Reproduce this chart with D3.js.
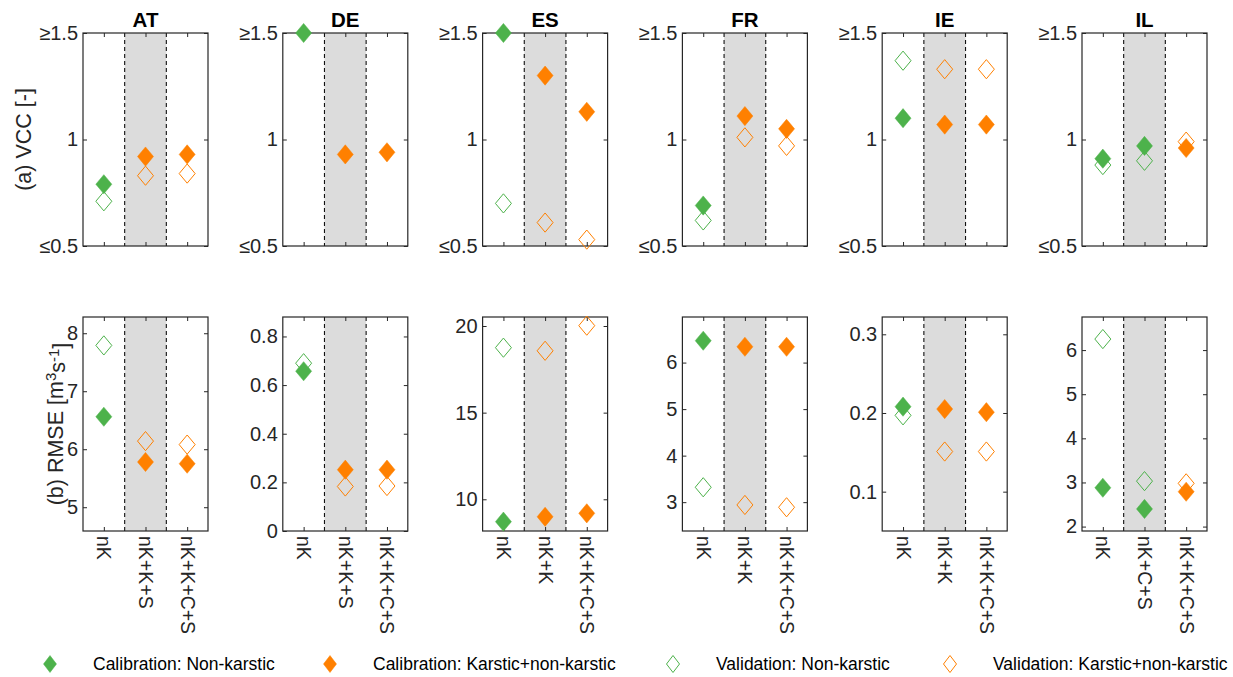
<!DOCTYPE html>
<html>
<head>
<meta charset="utf-8">
<script src="https://cdn.jsdelivr.net/npm/d3@7"></script>
<style>
  body { margin: 0; background: #fff; }
  text { font-family: "Liberation Sans", Arial, sans-serif; }
</style>
</head>
<body>
<div id="container"></div>
<script>
// ---- data ----
let countries = ["AT", "DE", "ES", "FR", "IE", "IL"];
let modelLabels = [
  ["nK", "nK+K+S", "nK+K+C+S"],
  ["nK", "nK+K+S", "nK+K+C+S"],
  ["nK", "nK+K", "nK+K+C+S"],
  ["nK", "nK+K", "nK+K+C+S"],
  ["nK", "nK+K", "nK+K+C+S"],
  ["nK", "nK+C+S", "nK+K+C+S"]
];

// (a) VCC, clipped to [0.5, 1.5]
let vccCal = [
  [0.79, 0.92, 0.93],
  [1.5, 0.93, 0.94],
  [1.5, 1.30, 1.13],
  [0.69, 1.11, 1.05],
  [1.10, 1.07, 1.07],
  [0.91, 0.97, 0.96]
];
let vccVal = [
  [0.71, 0.83, 0.84],
  [null, null, null],
  [0.70, 0.61, 0.53],
  [0.62, 1.01, 0.97],
  [1.37, 1.33, 1.33],
  [0.88, 0.90, 0.99]
];
let vccLimits = [0.5, 1.5];
let vccTicks = [0.5, 1, 1.5];
let vccTickLabels = ["\u22640.5", "1", "\u22651.5"];

// (b) RMSE
let rmseCal = [
  [6.56, 5.78, 5.75],
  [0.657, 0.252, 0.252],
  [8.71, 8.99, 9.19],
  [6.47, 6.34, 6.34],
  [0.208, 0.205, 0.201],
  [2.88, 2.40, 2.79]
];
let rmseVal = [
  [7.79, 6.14, 6.08],
  [0.69, 0.183, 0.185],
  [18.75, 18.57, 20.02],
  [3.32, 2.94, 2.89],
  [0.197, 0.151, 0.151],
  [6.25, 3.03, 2.98]
];
let rmseLimits = [
  [4.59, 8.28],
  [0, 0.88],
  [8.17, 20.52],
  [2.38, 6.98],
  [0.05, 0.322],
  [1.9, 6.75]
];
let rmseTicks = [
  [5, 6, 7, 8],
  [0, 0.2, 0.4, 0.6, 0.8],
  [10, 15, 20],
  [3, 4, 5, 6],
  [0.1, 0.2, 0.3],
  [2, 3, 4, 5, 6]
];

let legendLabels = [
  "Calibration: Non-karstic",
  "Calibration: Karstic+non-karstic",
  "Validation: Non-karstic",
  "Validation: Karstic+non-karstic"
];

// ---- layout ----
let w = 1233;
let h = 677;
let panelLeft = 83;
let panelStep = 199.8;
let panelW = 125;
let rows = [
  { top: 33, bottom: 246 },
  { top: 317, bottom: 531 }
];

let green = "#4db24b";
let orange = "#ff8000";
let axisColor = "#262626";

let svg = d3.select("#container")
  .append("svg")
    .attr("width", w)
    .attr("height", h)
    .style("background-color", "#fff");

// diamond a bit taller than wide, like the picture
function diamond(hw, hh) {
  let p = d3.path();
  p.moveTo(0, -hh);
  p.lineTo(hw, 0);
  p.lineTo(0, hh);
  p.lineTo(-hw, 0);
  p.closePath();
  return p.toString();
}
let markerPath = diamond(8, 9.6);

let xScale = d3.scaleLinear().domain([0.5, 3.5]).range([0, panelW]);

function colourFor(label) {
  return label.includes("+K") ? orange : green;
}

function drawPanel(ci, r) {
  let row = rows[r];
  let lim = r == 0 ? vccLimits : rmseLimits[ci];
  let ticks = r == 0 ? vccTicks : rmseTicks[ci];
  let yScale = d3.scaleLinear().domain(lim).range([row.bottom, row.top]).clamp(true);

  let g = svg.append("g")
    .attr("class", "panel")
    .attr("transform", "translate(" + (panelLeft + ci * panelStep) + ",0)");

  // shaded middle column
  g.append("rect")
    .attr("x", xScale(1.5))
    .attr("y", row.top)
    .attr("width", xScale(2.5) - xScale(1.5))
    .attr("height", row.bottom - row.top)
    .attr("fill", "#dcdcdc");

  // dashed separators
  g.selectAll(".sep").data([1.5, 2.5]).enter()
    .append("line")
      .attr("class", "sep")
      .attr("x1", d => xScale(d))
      .attr("x2", d => xScale(d))
      .attr("y1", row.top)
      .attr("y2", row.bottom)
      .attr("stroke", "#111")
      .attr("stroke-width", 1.1)
      .attr("stroke-dasharray", "4,3");

  // y axes (left with labels, right ticks only)
  let yLeft = d3.axisLeft(yScale).tickValues(ticks).tickSizeInner(-4).tickSizeOuter(0).tickPadding(5);
  if (r == 0) yLeft.tickFormat((d, i) => vccTickLabels[i]);
  else yLeft.tickFormat(d3.format("~g"));
  let yl = g.append("g").call(yLeft);
  yl.select(".domain").remove();
  yl.selectAll("line").attr("stroke", axisColor);
  yl.selectAll("text").attr("fill", axisColor).style("font-size", "20px");

  let yr = g.append("g").attr("transform", "translate(" + panelW + ",0)")
    .call(d3.axisRight(yScale).tickValues(ticks).tickSizeInner(-4).tickSizeOuter(0).tickFormat(""));
  yr.select(".domain").remove();
  yr.selectAll("line").attr("stroke", axisColor);

  // x axes
  let xt = g.append("g").attr("transform", "translate(0," + row.top + ")")
    .call(d3.axisTop(xScale).tickValues([1, 2, 3]).tickSizeInner(-4).tickSizeOuter(0).tickFormat(""));
  xt.select(".domain").remove();
  xt.selectAll("line").attr("stroke", axisColor);

  let xb = g.append("g").attr("transform", "translate(0," + row.bottom + ")")
    .call(d3.axisBottom(xScale).tickValues([1, 2, 3]).tickSizeInner(-4).tickSizeOuter(0)
      .tickFormat((d, i) => r == 1 ? modelLabels[ci][i] : ""));
  xb.select(".domain").remove();
  xb.selectAll("line").attr("stroke", axisColor);
  xb.selectAll("text")
    .attr("fill", axisColor)
    .style("font-size", "19.5px")
    .attr("text-anchor", "start")
    .attr("x", 5)
    .attr("y", 0)
    .attr("dy", "0.36em")
    .attr("transform", "rotate(90)");

  // frame
  g.append("rect")
    .attr("x", 0)
    .attr("y", row.top)
    .attr("width", panelW)
    .attr("height", row.bottom - row.top)
    .attr("fill", "none")
    .attr("stroke", axisColor)
    .attr("stroke-width", 1.2);

  // markers: validation (open) first, calibration (filled) on top
  let cal = r == 0 ? vccCal[ci] : rmseCal[ci];
  let val = r == 0 ? vccVal[ci] : rmseVal[ci];
  let pts = [];
  val.forEach((v, i) => { if (v != null) pts.push({ x: i + 1, v: v, filled: false, c: colourFor(modelLabels[ci][i]) }); });
  cal.forEach((v, i) => { if (v != null) pts.push({ x: i + 1, v: v, filled: true, c: colourFor(modelLabels[ci][i]) }); });

  g.selectAll(".pt").data(pts).enter()
    .append("path")
      .attr("class", "pt")
      .attr("d", markerPath)
      .attr("transform", d => "translate(" + xScale(d.x) + "," + yScale(d.v) + ")")
      .attr("fill", d => d.filled ? d.c : "none")
      .attr("stroke", d => d.c)
      .attr("stroke-width", d => d.filled ? 0.5 : 1);

  // titles
  if (r == 0) {
    g.append("text")
      .attr("x", panelW / 2)
      .attr("y", 27)
      .attr("text-anchor", "middle")
      .style("font-size", "20.5px")
      .style("font-weight", "bold")
      .attr("fill", "#000")
      .text(countries[ci]);
  }
}

countries.forEach((c, ci) => {
  drawPanel(ci, 0);
  drawPanel(ci, 1);
});

// y labels
svg.append("text")
  .attr("transform", "translate(23," + (rows[0].top + rows[0].bottom) / 2 + ") rotate(-90)")
  .attr("text-anchor", "middle")
  .attr("dy", "0.35em")
  .attr("fill", axisColor)
  .style("font-size", "21.5px")
  .text("(a) VCC [-]");

let rl = svg.append("text")
  .attr("transform", "translate(55," + (rows[1].top + rows[1].bottom) / 2 + ") rotate(-90)")
  .attr("text-anchor", "middle")
  .attr("dy", "0.35em")
  .attr("fill", axisColor)
  .style("font-size", "21.5px");
rl.append("tspan").text("(b) RMSE [m");
rl.append("tspan").attr("dy", "-0.45em").style("font-size", "15px").text("3");
rl.append("tspan").attr("dy", "0.45em").text("s");
rl.append("tspan").attr("dy", "-0.45em").style("font-size", "15px").text("-1");
rl.append("tspan").attr("dy", "0.45em").text("]");

// legend
let legendX = [50, 330, 673, 950];
let legendStyle = [
  { c: green, filled: true },
  { c: orange, filled: true },
  { c: green, filled: false },
  { c: orange, filled: false }
];
let legendY = 664;
let lg = svg.append("g").attr("class", "legend");
let items = lg.selectAll(".item").data(legendLabels).enter()
  .append("g")
    .attr("class", "item")
    .attr("transform", (d, i) => "translate(" + legendX[i] + "," + legendY + ")");
items.append("path")
  .attr("d", diamond(6.5, 8.5))
  .attr("fill", (d, i) => legendStyle[i].filled ? legendStyle[i].c : "none")
  .attr("stroke", (d, i) => legendStyle[i].c)
  .attr("stroke-width", (d, i) => legendStyle[i].filled ? 0.5 : 1);
items.append("text")
  .attr("x", 43)
  .attr("y", 0)
  .attr("dy", "0.36em")
  .attr("fill", "#000")
  .style("font-size", "17.5px")
  .text(d => d);
</script>
</body>
</html>
